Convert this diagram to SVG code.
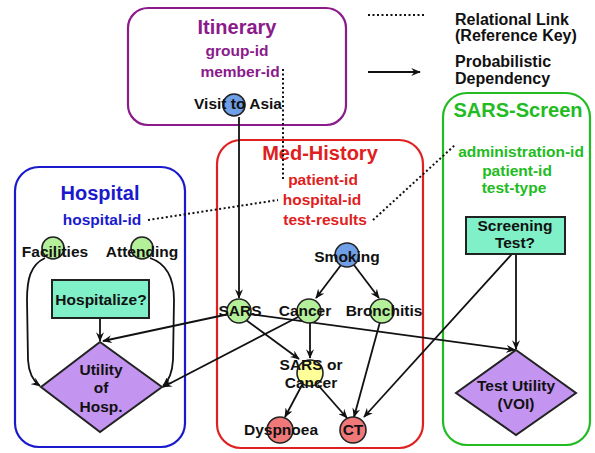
<svg xmlns="http://www.w3.org/2000/svg" width="595" height="453" viewBox="0 0 595 453">
<defs>
<marker id="arr" viewBox="0 0 12 10" refX="11" refY="5" markerWidth="10" markerHeight="8" markerUnits="userSpaceOnUse" orient="auto">
<path d="M0,0 L12,5 L0,10 L4,5 z" fill="#111"/>
</marker>
<style>
text{font-family:"Liberation Sans",Arial,sans-serif;font-weight:bold;text-anchor:middle}
.title{font-size:20px}
.id{font-size:15.5px}
.lbl{font-size:15.5px;fill:#111}
.leg{font-size:16px;fill:#111;text-anchor:start}
.frame{fill:none;stroke-width:2.2}
.node{stroke:#222;stroke-width:1.6}
.dot{fill:none;stroke:#111;stroke-width:2;stroke-dasharray:2,2.5}
.edge{fill:none;stroke:#111;stroke-width:1.8;marker-end:url(#arr)}
</style>
</defs>
<rect width="595" height="453" fill="#fff"/>

<g id="legend">
<line x1="368" y1="15" x2="426" y2="15" class="dot"/>
<text x="455" y="25" class="leg">Relational Link</text>
<text x="455" y="41" class="leg">(Reference Key)</text>
<line x1="368" y1="72" x2="420" y2="72" class="edge"/>
<text x="455" y="67" class="leg">Probabilistic</text>
<text x="455" y="84" class="leg">Dependency</text>
</g>

<g id="itinerary">
<rect x="128" y="8" width="218" height="117" rx="20" class="frame" stroke="#8b1a8b"/>
<text x="237" y="34" class="title" fill="#8b1a8b">Itinerary</text>
<text x="237" y="56" class="id" fill="#8b1a8b">group-id</text>
<text x="240" y="77" class="id" fill="#8b1a8b">member-id</text>
</g>

<g id="med-history">
<rect x="217" y="140" width="206" height="308" rx="24" class="frame" stroke="#e02020"/>
<text x="320" y="160" class="title" fill="#e02020">Med-History</text>
<text x="323" y="185" class="id" fill="#e02020">patient-id</text>
<text x="322" y="205" class="id" fill="#e02020">hospital-id</text>
<text x="325" y="225" class="id" fill="#e02020">test-results</text>
</g>

<g id="hospital">
<rect x="15" y="167" width="170" height="280" rx="24" class="frame" stroke="#1a1acc"/>
<text x="100" y="200" class="title" fill="#1a1acc">Hospital</text>
<text x="102" y="225" class="id" fill="#1a1acc">hospital-id</text>
</g>

<g id="sars-screen">
<rect x="443" y="93" width="147" height="352" rx="24" class="frame" stroke="#22bb22"/>
<text x="518" y="117" class="title" fill="#22bb22">SARS-Screen</text>
<text x="521" y="157" class="id" fill="#22bb22">administration-id</text>
<text x="517" y="176" class="id" fill="#22bb22">patient-id</text>
<text x="514" y="193" class="id" fill="#22bb22">test-type</text>
</g>

<g id="connectors">
<path d="M283,69 L283,180" class="dot"/>
<path d="M148,220 L278,200" class="dot"/>
<path d="M373,220 L455,145" class="dot"/>
<path d="M239,117 L239,298" class="edge"/>
<path d="M341,265 L316,298" class="edge"/>
<path d="M354,265 L379,298" class="edge"/>
<path d="M100,318 L100,341" class="edge"/>
<path d="M229,314 L103,341" class="edge"/>
<path d="M300,316 L163,387" class="edge"/>
<path d="M249,314 L515,350" class="edge"/>
<path d="M246,320 L299,359" class="edge"/>
<path d="M310,323 L310,358" class="edge"/>
<path d="M380,322 L354,417" class="edge"/>
<path d="M512,254 L364,417" class="edge"/>
<path d="M516,254 L516,349" class="edge"/>
<path d="M302,385 L285,417" class="edge"/>
<path d="M318,385 L347,418" class="edge"/>
<path d="M45,258 C30,265 27,280 27,300 L28,360 Q29,378 40,386" class="edge" stroke-width="1.4"/>
<path d="M150,258 C168,264 174,280 174,300 L173,360 Q172,378 163,386" class="edge" stroke-width="1.4"/>
</g>

<g id="visit-to-asia">
<circle cx="234" cy="105" r="11" fill="#6f9fe6" class="node"/>
<text x="238" y="109" class="lbl">Visit to Asia</text>
</g>

<g id="smoking">
<circle cx="347" cy="255" r="12" fill="#6f9fe6" class="node"/>
<text x="347" y="262" class="lbl">Smoking</text>
</g>

<g id="sars">
<circle cx="239" cy="311" r="12" fill="#b4f09a" class="node"/>
<text x="240" y="316" class="lbl">SARS</text>
</g>

<g id="cancer">
<circle cx="309" cy="311" r="12" fill="#b4f09a" class="node"/>
<text x="305" y="316" class="lbl">Cancer</text>
</g>

<g id="bronchitis">
<circle cx="382" cy="311" r="12" fill="#b4f09a" class="node"/>
<text x="384" y="316" class="lbl">Bronchitis</text>
</g>

<g id="sars-or-cancer">
<circle cx="310" cy="373" r="13" fill="#ffff99" class="node"/>
<text x="311" y="370" class="lbl">SARS or</text>
<text x="311" y="388" class="lbl">Cancer</text>
</g>

<g id="dyspnoea">
<circle cx="280" cy="430" r="13" fill="#f07878" class="node"/>
<text x="281" y="435" class="lbl">Dyspnoea</text>
</g>

<g id="ct">
<circle cx="353" cy="430" r="13" fill="#f07878" class="node"/>
<text x="353" y="435" class="lbl">CT</text>
</g>

<g id="facilities">
<circle cx="53" cy="248" r="11" fill="#b4f09a" class="node"/>
<text x="55" y="257" class="lbl">Facilities</text>
</g>

<g id="attending">
<circle cx="142" cy="248" r="11" fill="#b4f09a" class="node"/>
<text x="142" y="257" class="lbl">Attending</text>
</g>

<g id="hospitalize">
<rect x="52" y="280" width="97" height="38" fill="#7ff0c8" stroke="#222" stroke-width="2"/>
<text x="101" y="305" class="lbl">Hospitalize?</text>
</g>

<g id="utility-of-hosp">
<polygon points="100,342 162,387 100,432 41,387" fill="#c394f0" stroke="#222" stroke-width="2"/>
<text x="101" y="375" class="lbl">Utility</text>
<text x="101" y="393" class="lbl">of</text>
<text x="101" y="412" class="lbl">Hosp.</text>
</g>

<g id="screening-test">
<rect x="466" y="217" width="99" height="37" fill="#7ff0c8" stroke="#222" stroke-width="2"/>
<text x="515" y="231" class="lbl">Screening</text>
<text x="515" y="248" class="lbl">Test?</text>
</g>

<g id="test-utility">
<polygon points="516,350 576,393 516,435 456,393" fill="#c394f0" stroke="#222" stroke-width="2"/>
<text x="516" y="391" class="lbl">Test Utility</text>
<text x="516" y="409" class="lbl">(VOI)</text>
</g>
</svg>
